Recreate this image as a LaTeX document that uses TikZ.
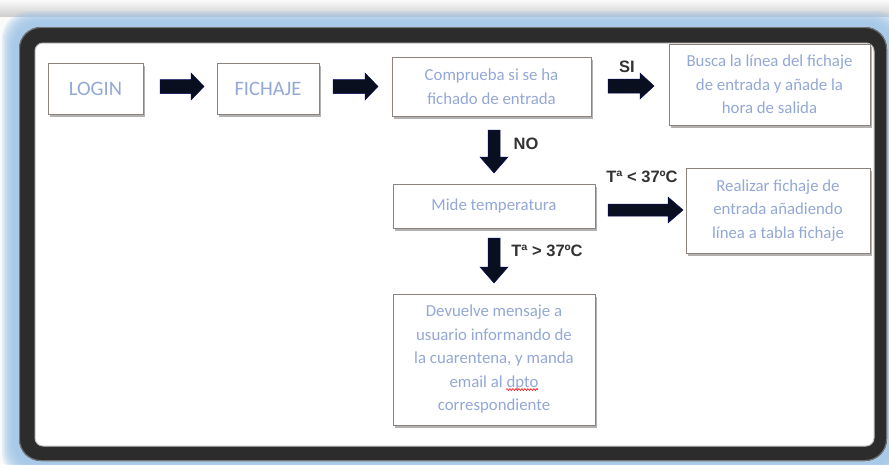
\documentclass[tikz,border=0pt]{standalone}
\usepackage{fontspec}
\setmainfont{Carlito}
\newfontfamily\labfont{Liberation Sans}
\usetikzlibrary{shadows,calc,decorations.pathmorphing}
\definecolor{txt}{HTML}{93A8D6}
\definecolor{bord}{HTML}{8E837C}
\definecolor{glow}{HTML}{9EC4E8}
\definecolor{framec}{HTML}{2C2C2C}
\definecolor{arr}{HTML}{0A0F1F}
% #1 name, #2 centre, #3 rotation, #4 length, #5 head width, #6 shaft width, #7 head length
\newcommand\blockarrow[7]{%
  \coordinate (#1) at #2;
  \begin{scope}[shift={(#1)}, rotate=#3]
    \fill[arr, draw=arr!70!blue, line width=0.5pt]
      ({-#4/2},{-#6/2}) -- ({#4/2-#7},{-#6/2}) -- ({#4/2-#7},{-#5/2}) --
      ({#4/2},0) -- ({#4/2-#7},{#5/2}) -- ({#4/2-#7},{#6/2}) --
      ({-#4/2},{#6/2}) -- cycle;
  \end{scope}}
\tikzset{
  stepbox/.style={draw=bord, line width=0.8pt, fill=white, align=center,
    text=txt, font=\fontsize{16.8}{23.5}\selectfont, inner sep=0pt,
    drop shadow={shadow xshift=2pt, shadow yshift=-2.5pt, opacity=0.3, fill=black}},
  bigbox/.style={stepbox, font=\fontsize{20.5}{24}\selectfont},
  lab/.style={font=\labfont\bfseries\fontsize{16.5}{18}\selectfont, text=black!80, inner sep=0pt},
  spell/.style={red, line width=0.6pt, decorate, decoration={snake, amplitude=0.9pt, segment length=3pt}}
}
\begin{document}
\begin{tikzpicture}[x=1pt,y=-1pt]
\useasboundingbox (0,0) rectangle (889,464);
% background and glow
\fill[gray!4] (0,0) rectangle (889,464);
\shade[top color=gray!4, bottom color=gray!38] (0,0) rectangle (889,16);
\foreach \i in {0,...,7}{
  \fill[glow, opacity=0.22, rounded corners=28pt] ({2+1.6*\i},{11+1.5*\i}) rectangle ({905-1.6*\i},{480-1.6*\i});
}
% dark frame
\fill[framec, rounded corners=22pt] (19,27) rectangle (887,461);
\draw[black!55, line width=1pt, rounded corners=21.5pt] (19.5,27.5) rectangle (886.5,460.5);
\fill[white, rounded corners=8pt] (35,43) rectangle (874,446);
\draw[gray!50, line width=1pt, rounded corners=8pt] (35,43) rectangle (874,446);

% boxes
\node[bigbox, minimum width=95pt, minimum height=51pt] (login) at (95.5,88.5) {LOGIN};
\node[bigbox, minimum width=102pt, minimum height=51pt] (fichaje) at (268,88.5) {FICHAJE};
\node[stepbox, minimum width=199pt, minimum height=59pt] (comp) at (491.5,86.5) {Comprueba si se ha\\fichado de entrada};
\node[stepbox, minimum width=201pt, minimum height=81pt] (busca) at (769.5,84.5) {Busca la línea del fichaje\\de entrada y añade la\\hora de salida};
\node[stepbox, minimum width=202pt, minimum height=44pt] (mide) at (494,206) {Mide temperatura};
\node[stepbox, minimum width=184pt, minimum height=85pt] (realizar) at (778,210.5) {Realizar fichaje de\\entrada añadiendo\\línea a tabla fichaje};
\node[stepbox, minimum width=202pt, minimum height=131pt] (devuelve) at (494,359.5) {Devuelve mensaje a\\usuario informando de\\la cuarentena, y manda\\email al dpto\\correspondiente};
\coordinate (w1) at ($(devuelve.center)+(12,30)$);
\coordinate (w2) at ($(devuelve.center)+(44,30)$);
\draw[spell] (w1) -- (w2);

% block arrows
\blockarrow{a1}{(182,86.5)}{0}{44}{27}{14}{13}
\blockarrow{a2}{(355.5,86.5)}{0}{45}{27}{14}{13}
\blockarrow{asi}{(631,86)}{0}{46}{26}{14}{14}
\blockarrow{ano}{(494,151.5)}{-90}{43}{28}{12}{16}
\blockarrow{alow}{(645.5,210)}{0}{75}{26}{12}{15}
\blockarrow{ahigh}{(494,260.5)}{-90}{45}{28}{12}{16}

% labels
\node[lab] (lsi) at (627,67) {SI};
\node[lab] (lno) at (526,144) {NO};
\node[lab] (llow) at (642,176.5) {Tª < 37ºC};
\node[lab] (lhigh) at (547,250.5) {Tª > 37ºC};
\end{tikzpicture}
\end{document}
